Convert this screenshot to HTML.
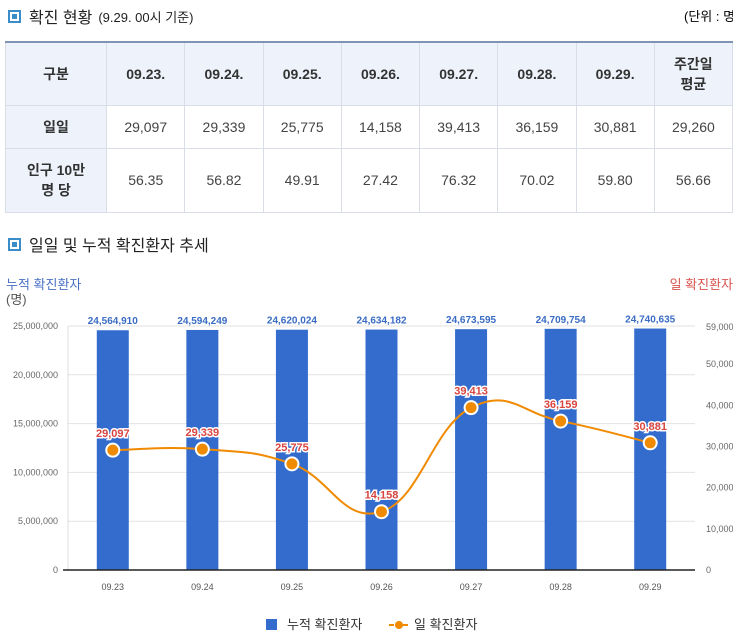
<!DOCTYPE html>
<html><head><meta charset="utf-8">
<style>
body{margin:0;width:733px;height:639px;overflow:hidden;background:#fff;font-family:"Liberation Sans","Noto Sans CJK KR",sans-serif;position:relative}
.ttl{position:absolute;left:8px;font-size:16px;color:#222;display:flex;align-items:center}
.ttl .sq{width:9px;height:9px;border:2px solid #3a8dc9;margin-right:8px;box-shadow:inset 0 0 0 2px #fff;background:#3a8dc9}
table{position:absolute;left:5px;top:41px;border-collapse:collapse;font-size:14px;color:#444;table-layout:fixed}
td,th{border:1px solid #d8dde6;text-align:center;padding:0}
tr:first-child th{border-top:2px solid #7f93b5}
th{background:#eef3fb;font-weight:bold;color:#333}
td.h{background:#eef3fb;font-weight:bold;color:#333}
</style></head><body>
<div class="ttl" style="top:4px"><span class="sq"></span>확진 현황 <span style="font-size:13px;margin-left:6px">(9.29. 00시 기준)</span></div>
<div style="position:absolute;left:684px;top:6px;font-size:13px;white-space:nowrap">(단위 : 명)</div>
<table>
<colgroup><col style="width:103px"><col span="8" style="width:79px"></colgroup>
<tr style="height:63px"><th>구분</th><th>09.23.</th><th>09.24.</th><th>09.25.</th><th>09.26.</th><th>09.27.</th><th>09.28.</th><th>09.29.</th><th>주간일<br>평균</th></tr>
<tr style="height:43px"><td class="h">일일</td><td>29,097</td><td>29,339</td><td>25,775</td><td>14,158</td><td>39,413</td><td>36,159</td><td>30,881</td><td>29,260</td></tr>
<tr style="height:64px"><td class="h">인구 10만<br>명 당</td><td>56.35</td><td>56.82</td><td>49.91</td><td>27.42</td><td>76.32</td><td>70.02</td><td>59.80</td><td>56.66</td></tr>
</table>
<div class="ttl" style="top:232px"><span class="sq"></span>일일 및 누적 확진환자 추세</div>
<svg id="chart" width="733" height="639" style="position:absolute;left:0;top:0" font-family="Liberation Sans, Noto Sans CJK KR, sans-serif"></svg>
<script>
const categories=["09.23","09.24","09.25","09.26","09.27","09.28","09.29"];
const cumulative=[24564910,24594249,24620024,24634182,24673595,24709754,24740635];
const daily=[29097,29339,25775,14158,39413,36159,30881];
const leftTicks=[0,5000000,10000000,15000000,20000000,25000000];
const rightTicks=[0,10000,20000,30000,40000,50000,59000];
const NS="http://www.w3.org/2000/svg",svg=document.getElementById('chart');
const x0=68,x1=695,yb=570,yt=326;
const xs=i=>x0+(i+0.5)*(x1-x0)/categories.length;
const yl=v=>yb-v/25000000*(yb-yt);
const yr=v=>yb-v/59000*(yb-yt-1);
const fmt=v=>v.toLocaleString('en-US');
function el(t,a,p){const e=document.createElementNS(NS,t);for(const k in a)e.setAttribute(k,a[k]);(p||svg).appendChild(e);return e;}
function tx(x,y,s,a){const e=el('text',Object.assign({x:x,y:y},a));e.textContent=s;return e;}
tx(6,289,"누적 확진환자",{"font-size":13,fill:"#4a70c4"});
tx(6,304,"(명)",{"font-size":13,fill:"#555"});
tx(733,289,"일 확진환자",{"font-size":13,fill:"#d9534f","text-anchor":"end"});
leftTicks.forEach(v=>{
 const g=el('line',{x1:x0,x2:x1,y1:yl(v),y2:yl(v),stroke:"#e2e2e2"});
 
 const t=tx(x0-10,yl(v)+3,fmt(v),{"font-size":9,fill:"#666","text-anchor":"end"});
 
});
rightTicks.forEach(v=>{
 const t=tx(706,yr(v)+3,fmt(v),{"font-size":9,fill:"#666"});
 
});
el('line',{x1:x0,x2:x0,y1:yt,y2:yb,stroke:"#ddd"});
categories.forEach((c,i)=>{
 const b=el('rect',{x:xs(i)-16,y:yl(cumulative[i]),width:32,height:yb-yl(cumulative[i]),fill:"#336ccc"});
 
 
 const l=tx(xs(i),yl(cumulative[i])-6,fmt(cumulative[i]),{"font-size":10,fill:"#3a6cc4","text-anchor":"middle","font-weight":"bold"});
 
 const xl=tx(xs(i),590,c,{"font-size":9,fill:"#555","text-anchor":"middle"});
 
});
el('line',{x1:x0-5,x2:x1,y1:yb,y2:yb,stroke:"#222","stroke-width":1.5});
const pts=daily.map((v,i)=>[xs(i),yr(v)]);
let d="M"+pts[0][0]+","+pts[0][1];
for(let i=0;i<pts.length-1;i++){
 const p0=pts[Math.max(0,i-1)],p1=pts[i],p2=pts[i+1],p3=pts[Math.min(pts.length-1,i+2)],k=0.5/3*1.3;
 d+=` C${p1[0]+(p2[0]-p0[0])*k},${p1[1]+(p2[1]-p0[1])*k} ${p2[0]-(p3[0]-p1[0])*k},${p2[1]-(p3[1]-p1[1])*k} ${p2[0]},${p2[1]}`;
}
const line=el('path',{d:d,fill:"none",stroke:"#f08a00","stroke-width":2});

pts.forEach((p,i)=>{
 const c=el('circle',{cx:p[0],cy:p[1],r:6.5,fill:"#f08a00",stroke:"#fff","stroke-width":2});
 
 
 const t=tx(p[0],p[1]-13,fmt(daily[i]),{"font-size":11,fill:"#d9453f","text-anchor":"middle","font-weight":"bold",stroke:"#fff","stroke-width":3,"paint-order":"stroke"});
 
});
const lg=el('g',{});

el('rect',{x:266,y:619,width:11,height:11,fill:"#336ccc"},lg);
tx(287,629,"누적 확진환자",{"font-size":13,fill:"#333"});
el('line',{x1:389,x2:409,y1:625,y2:625,stroke:"#f08a00","stroke-width":2,"stroke-dasharray":"5,2"},lg);
el('circle',{cx:399,cy:625,r:4,fill:"#f08a00"},lg);
tx(414,629,"일 확진환자",{"font-size":13,fill:"#333"});
</script>
</body></html>
